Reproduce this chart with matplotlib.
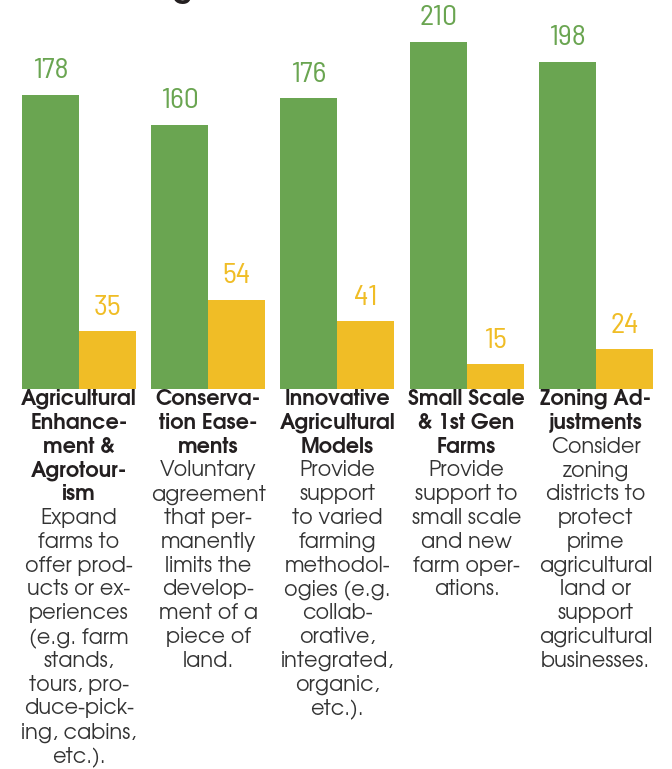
import matplotlib
matplotlib.use("Agg")
import matplotlib.pyplot as plt
import numpy as np

# ---- data ----
categories_bold = [
    ["Agricultural", "Enhance-", "ment &", "Agrotour-", "ism"],
    ["Conserva-", "tion Ease-", "ments"],
    ["Innovative", "Agricultural", "Models"],
    ["Small Scale", "& 1st Gen", "Farms"],
    ["Zoning Ad-", "justments"],
]
categories_desc = [
    ["Expand", "farms to", "offer prod-", "ucts or ex-", "periences", "(e.g. farm",
     "stands,", "tours, pro-", "duce-pick-", "ing, cabins,", "etc.)."],
    ["Voluntary", "agreement", "that per-", "manently", "limits the", "develop-",
     "ment of a", "piece of", "land."],
    ["Provide", "support", "to varied", "farming", "methodol-", "ogies (e.g.",
     "collab-", "orative,", "integrated,", "organic,", "etc.)."],
    ["Provide", "support to", "small scale", "and new", "farm oper-", "ations."],
    ["Consider", "zoning", "districts to", "protect", "prime", "agricultural",
     "land or", "support", "agricultural", "businesses."],
]
green_values = [178, 160, 176, 210, 198]
yellow_values = [35, 54, 41, 15, 24]
title = "Agricultural Resources"

GREEN = "#6aa551"
YELLOW = "#f0bd26"
W, H = 672, 769
BODY = ["TeX Gyre Adventor", "DejaVu Sans"]
NUM = ["Barlow Semi Condensed", "Barlow Condensed", "DejaVu Sans"]

fig = plt.figure(figsize=(W / 100, H / 100), dpi=100)
base_px = 389
ax = fig.add_axes([14.4 / W, (H - base_px) / H, 646 / W, base_px / H])
x = np.arange(len(green_values))
bw = 0.441
gb = ax.bar(x - bw / 2, green_values, width=bw, color=GREEN, linewidth=0)
yb = ax.bar(x + bw / 2, yellow_values, width=bw, color=YELLOW, linewidth=0)
ax.set_xlim(-0.5, 4.5)
ax.set_ylim(0, base_px / 1.652)
ax.axis("off")

for rects, vals, col in [(gb, green_values, GREEN), (yb, yellow_values, YELLOW)]:
    for r, v in zip(rects, vals):
        ax.annotate(str(v), (r.get_x() + r.get_width() / 2, r.get_height()),
                    xytext=(0, 12), textcoords="offset points",
                    ha="center", va="baseline", color=col,
                    fontsize=21.5, fontweight="normal", family=NUM)

# category texts
pitch = 23.8
first_base = 405
for i, (bold, desc) in enumerate(zip(categories_bold, categories_desc)):
    xc = ax.transData.transform((x[i], 0))[0] / W
    lines = [(t, "bold") for t in bold] + [(t, "normal") for t in desc]
    for k, (t, wt) in enumerate(lines):
        yy = 1 - (first_base + pitch * k) / H
        fig.text(xc, yy, t, ha="center", va="baseline",
                 fontsize=15, fontweight=wt, family=BODY,
                 color="#231f20" if wt == "bold" else "#333333")

fig.text(150 / W, 1 + 2.5 / H, title, ha="left", va="baseline",
         fontsize=22, fontweight="bold", family=BODY, color="#231f20")

fig.savefig("out.png", dpi=100)
